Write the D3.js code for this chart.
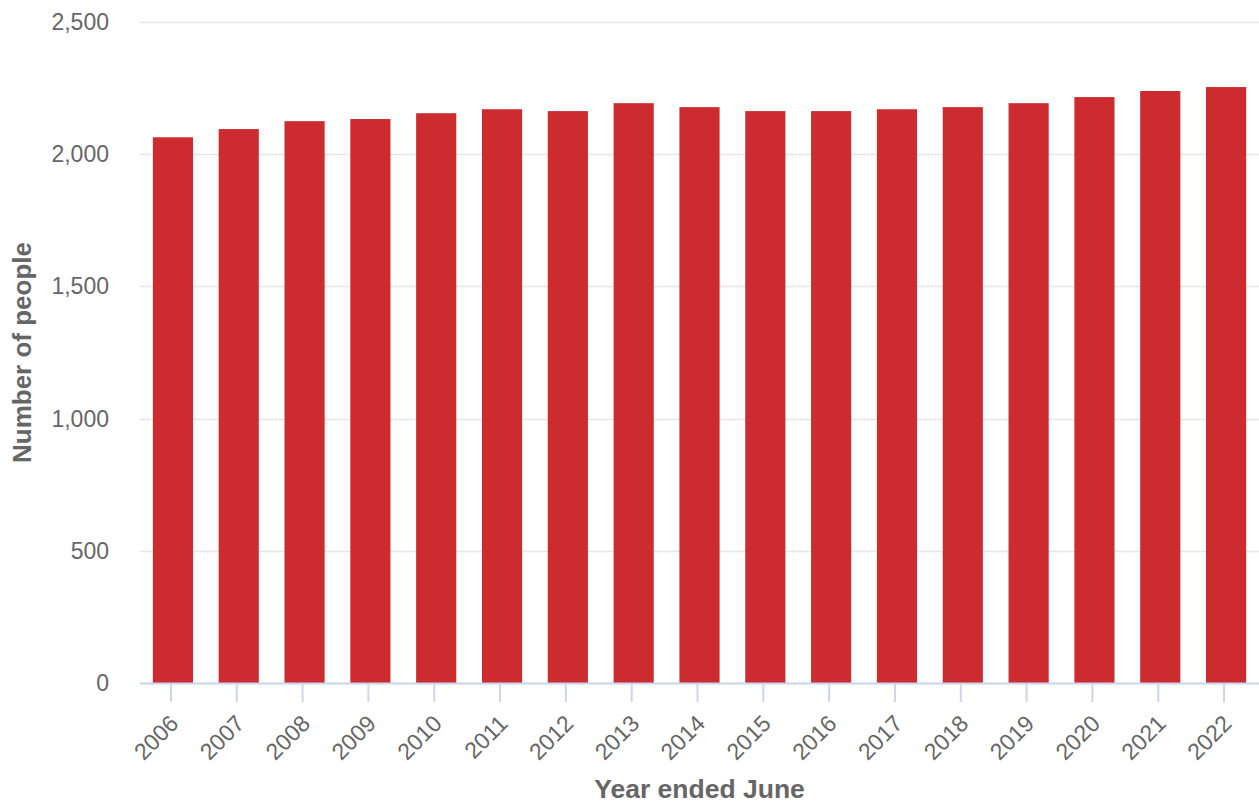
<!DOCTYPE html>
<html>
<head>
<meta charset="utf-8">
<script src="https://cdn.jsdelivr.net/npm/d3@7"></script>
<style>
  html, body { margin: 0; padding: 0; background: #fff; }
  svg { display: block; font-family: "Liberation Sans", Arial, sans-serif; }
</style>
</head>
<body>
<svg id="chart" width="1259" height="807"></svg>
<script>
const years = ["2006","2007","2008","2009","2010","2011","2012","2013","2014","2015","2016","2017","2018","2019","2020","2021","2022"];
const people = [2064, 2095, 2125, 2133, 2155, 2170, 2163, 2193, 2178, 2163, 2163, 2170, 2178, 2193, 2216, 2239, 2254];
const yTicks = [0, 500, 1000, 1500, 2000, 2500];
const xTitle = "Year ended June";
const yTitle = "Number of people";

const svg = d3.select("#chart");
const plot = { left: 140, right: 1259, top: 22, bottom: 683 };

const x = d3.scaleBand().domain(years).range([plot.left, plot.right]).paddingInner(0.39).paddingOuter(0.195);
const y = d3.scaleLinear().domain([0, 2500]).range([plot.bottom, plot.top]);

// gridlines
svg.append("g").selectAll("line").data(yTicks).join("line")
  .attr("x1", plot.left).attr("x2", plot.right)
  .attr("y1", d => Math.round(y(d)) + 0.5).attr("y2", d => Math.round(y(d)) + 0.5)
  .attr("stroke", "#e6e6e6").attr("stroke-width", 1.5);

// y labels
svg.append("g").selectAll("text").data(yTicks).join("text")
  .attr("x", 109).attr("y", d => y(d) + 8)
  .attr("text-anchor", "end")
  .attr("fill", "#666666").attr("font-size", 23)
  .text(d => d3.format(",")(d));

// bars
svg.append("g").selectAll("rect").data(years).join("rect")
  .attr("x", d => x(d)).attr("width", x.bandwidth())
  .attr("y", (d, i) => y(people[i])).attr("height", (d, i) => y(0) - y(people[i]))
  .attr("fill", "#cc2b30");

// x axis line
svg.append("line").attr("x1", plot.left).attr("x2", plot.right)
  .attr("y1", plot.bottom + 0.5).attr("y2", plot.bottom + 0.5)
  .attr("stroke", "#ccd6eb").attr("stroke-width", 2);

// ticks
const xc = d => x(d) + x.bandwidth() / 2 - 2;
svg.append("g").selectAll("line").data(years).join("line")
  .attr("x1", xc).attr("x2", xc)
  .attr("y1", plot.bottom).attr("y2", plot.bottom + 19)
  .attr("stroke", "#ccd6eb").attr("stroke-width", 2);

// x labels
svg.append("g").selectAll("text").data(years).join("text")
  .attr("transform", d => `translate(${xc(d) + 9},${plot.bottom + 42}) rotate(-45)`)
  .attr("text-anchor", "end")
  .attr("fill", "#666666").attr("font-size", 23)
  .text(d => d);

// axis titles
svg.append("text").attr("x", (plot.left + plot.right) / 2).attr("y", 798)
  .attr("text-anchor", "middle").attr("fill", "#666666")
  .attr("font-size", 26.5).attr("font-weight", "bold").text(xTitle);

svg.append("text")
  .attr("transform", `translate(31,${(plot.top + plot.bottom) / 2}) rotate(-90)`)
  .attr("text-anchor", "middle").attr("fill", "#666666")
  .attr("font-size", 26).attr("font-weight", "bold").text(yTitle);
</script>
</body>
</html>
